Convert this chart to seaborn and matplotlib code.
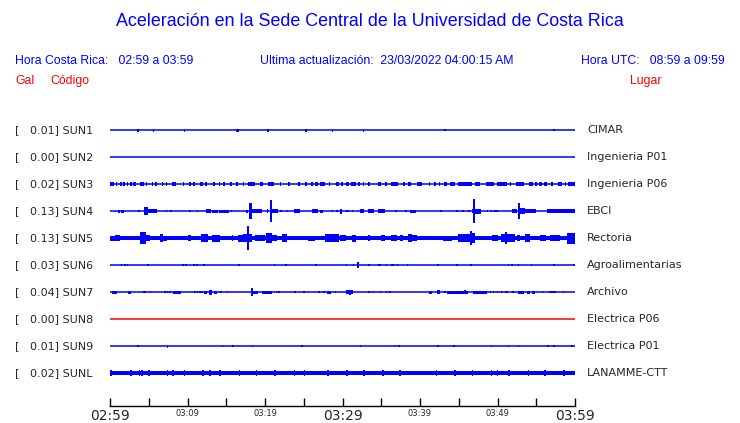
import numpy as np
import pandas as pd
import seaborn as sns
import matplotlib.pyplot as plt

# %% Data
codes = ["SUN1", "SUN2", "SUN3", "SUN4", "SUN5", "SUN6", "SUN7", "SUN8", "SUN9", "SUNL"]
gal = ["0.01", "0.00", "0.02", "0.13", "0.13", "0.03", "0.04", "0.00", "0.01", "0.02"]
places = ["CIMAR", "Ingenieria P01", "Ingenieria P06", "EBCI", "Rectoria",
          "Agroalimentarias", "Archivo", "Electrica P06", "Electrica P01", "LANAMME-CTT"]
trace_colors = ["blue"] * 7 + ["red"] + ["blue"] * 2
base_amp = [0, 0, 0, 0, 2.0, 0, 0, 0, 0, 1.7]   # steady noise band (px-like units)

tick_minutes = list(range(0, 61, 5))
tick_labels = ["02:59", "", "03:09", "", "03:19", "", "03:29", "", "03:39", "", "03:49", "", "03:59"]

# bursts: (start minute, end minute, half amplitude)
sun1_bursts = [(3.5, 3.5, 1.5), (5.5, 5.5, 1.5), (9.5, 9.5, 1.5), (16.2, 16.2, 1.5),
               (16.45, 16.45, 1.5), (20.3, 20.3, 1.5), (25.2, 25.2, 1.5), (28.6, 28.6, 1.5),
               (32.6, 32.6, 1.5), (43.1, 43.1, 1.0), (57.2, 57.2, 1.0)]
sun2_bursts = []
sun3_bursts = [(0.0, 0.56, 1.7), (0.73, 0.95, 1.7), (1.29, 1.5, 1.7), (1.72, 1.85, 1.7),
               (2.15, 2.28, 1.7), (2.58, 2.8, 1.7), (3.0, 3.3, 1.7), (3.87, 4.39, 1.7),
               (4.6, 4.6, 1.7), (5.4, 5.4, 1.7), (5.8, 6.0, 1.7), (6.67, 6.67, 1.7),
               (7.2, 7.2, 1.7), (7.96, 8.47, 1.7), (9.38, 9.38, 1.7), (10.24, 10.4, 1.7),
               (10.75, 11.0, 1.7), (11.6, 12.0, 1.7), (12.26, 12.26, 1.7), (13.3, 13.5, 1.7),
               (14.0, 14.2, 1.7), (14.6, 14.8, 1.7), (15.5, 15.7, 1.7), (16.3, 16.3, 1.7),
               (17.1, 17.3, 1.7), (17.85, 18.7, 1.7), (19.35, 19.8, 1.7), (20.4, 21.1, 1.7),
               (21.9, 21.9, 1.7), (23.0, 23.0, 1.7), (24.3, 24.3, 1.7), (25.2, 25.4, 1.7),
               (25.9, 26.2, 1.7), (26.45, 26.9, 1.7), (27.1, 27.8, 1.7), (28.2, 28.4, 1.7),
               (29.1, 29.5, 1.7), (29.8, 30.0, 1.7), (30.45, 30.9, 1.7), (31.05, 31.8, 1.7),
               (32.0, 32.2, 1.7), (32.6, 32.8, 1.7), (33.3, 33.3, 1.7), (34.6, 34.6, 1.7),
               (34.8, 35.0, 1.7), (35.5, 35.5, 1.7), (36.3, 37.2, 1.7), (37.8, 37.8, 1.7),
               (38.4, 38.8, 1.7), (39.6, 40.3, 1.7), (41.1, 41.1, 1.7), (41.8, 41.8, 1.7),
               (42.4, 42.4, 1.7), (43.1, 43.5, 1.7), (43.9, 44.5, 1.7), (44.9, 46.7, 1.7),
               (47.1, 47.1, 1.7), (47.4, 47.8, 1.7), (48.5, 49.5, 1.7), (49.9, 51.2, 1.7),
               (51.6, 51.6, 1.7), (52.4, 53.4, 1.7), (54.0, 54.6, 1.7), (54.8, 55.1, 1.7),
               (55.4, 55.7, 1.7), (56.0, 56.4, 1.7), (56.9, 57.2, 1.7), (57.8, 58.3, 1.7),
               (58.7, 58.7, 1.7), (59.1, 60.0, 1.7)]
sun4_bursts = [(1.07, 1.29, 1.5), (1.4, 1.85, 1.5), (3.66, 3.66, 1.0), (4.4, 4.86, 4.0),
               (4.86, 6.0, 1.7), (7.2, 7.2, 1.0), (7.8, 7.8, 1.0), (10.2, 10.2, 0.8),
               (11.2, 11.2, 0.8), (12.4, 13.0, 2.0), (13.1, 13.9, 1.5), (14.0, 15.35, 1.5),
               (15.6, 15.8, 1.2), (17.6, 17.8, 1.5), (17.9, 18.3, 8.0), (18.3, 19.6, 1.7),
               (20.2, 20.4, 2.0), (20.7, 20.95, 11.0), (20.95, 21.7, 2.0), (21.9, 22.15, 1.3),
               (22.8, 22.8, 0.8), (23.8, 24.5, 2.0), (26.0, 26.9, 2.0), (27.1, 27.5, 1.5),
               (28.6, 28.6, 0.8), (29.2, 29.3, 1.2), (29.7, 29.9, 2.5), (30.5, 30.9, 1.3),
               (31.2, 31.2, 1.0), (32.2, 32.8, 1.7), (33.3, 34.0, 1.7), (34.6, 35.5, 1.7),
               (36.8, 36.8, 0.8), (38.0, 38.3, 1.2), (38.7, 39.5, 1.5), (42.6, 42.6, 0.8),
               (44.7, 44.9, 1.2), (45.4, 45.7, 1.2), (46.2, 46.3, 1.2), (46.7, 46.9, 2.0),
               (46.9, 47.0, 12.0), (47.0, 47.9, 2.5), (48.6, 48.8, 1.3), (49.1, 49.3, 1.3),
               (49.6, 50.1, 1.3), (51.9, 52.5, 2.0), (52.7, 52.9, 8.0), (52.9, 53.5, 3.0),
               (53.5, 55.0, 1.7), (56.4, 60.0, 2.0)]
sun5_bursts = [(0.0, 0.65, 2.5), (0.65, 1.3, 3.0), (3.9, 4.6, 6.0), (4.6, 5.1, 3.0),
               (6.45, 6.9, 4.0), (6.9, 7.3, 2.5), (10.1, 10.5, 3.0), (11.8, 12.7, 4.5),
               (13.1, 14.2, 3.5), (15.7, 15.9, 3.0), (16.5, 17.1, 3.5), (17.2, 18.3, 4.0),
               (17.7, 17.75, 12.0), (18.7, 20.0, 3.0), (20.1, 20.9, 5.0), (20.9, 21.5, 3.0),
               (22.2, 22.8, 4.0), (25.6, 26.5, 2.5), (27.7, 29.5, 4.0), (29.7, 30.5, 3.0),
               (31.2, 31.8, 3.5), (33.3, 33.5, 3.0), (35.0, 35.5, 3.0), (36.3, 37.0, 3.0),
               (37.4, 37.8, 3.0), (38.5, 39.0, 4.5), (39.0, 39.6, 3.0), (43.0, 44.1, 2.5),
               (44.9, 46.4, 4.0), (46.4, 47.1, 5.0), (46.5, 46.6, 7.0), (49.3, 50.1, 3.0),
               (50.5, 52.3, 4.0), (51.0, 51.1, 6.0), (52.5, 52.9, 3.0), (53.6, 54.2, 4.0),
               (55.5, 56.3, 3.0), (56.8, 58.1, 3.0), (59.0, 60.0, 5.5)]
sun6_bursts = [(1.4, 1.6, 1.3), (1.8, 1.8, 1.3), (2.15, 2.15, 1.3), (4.8, 4.8, 1.3),
               (9.25, 9.55, 1.3), (9.7, 9.9, 1.3), (10.75, 10.75, 1.3), (11.1, 11.1, 1.3),
               (12.0, 12.2, 1.3), (16.55, 16.7, 1.0), (21.1, 21.1, 0.8), (22.6, 22.6, 0.8),
               (26.45, 26.7, 1.3), (30.4, 30.6, 1.3), (31.3, 31.4, 1.3), (31.9, 31.9, 3.0),
               (33.3, 33.4, 1.3), (34.6, 34.6, 1.3), (34.8, 34.8, 1.3), (35.6, 35.6, 1.3),
               (36.3, 36.6, 1.3), (37.0, 37.0, 1.3), (38.3, 38.3, 1.3), (42.2, 42.2, 0.8),
               (44.7, 44.7, 1.3), (46.4, 46.7, 1.3), (51.3, 51.3, 1.3), (51.7, 52.0, 1.3),
               (52.6, 52.6, 1.3), (54.3, 54.3, 1.3), (57.2, 57.3, 1.3), (59.8, 60.0, 1.3)]
sun7_bursts = [(0.2, 0.86, 1.5), (2.3, 2.7, 1.5), (4.2, 4.2, 1.0), (4.4, 4.4, 0.8),
               (5.1, 5.1, 1.0), (7.0, 7.0, 0.8), (7.3, 7.3, 1.0), (7.65, 7.65, 0.8),
               (8.1, 9.2, 1.5), (10.9, 10.9, 1.0), (11.2, 11.2, 1.0), (11.5, 11.5, 1.0),
               (11.8, 11.8, 1.0), (12.1, 12.5, 1.5), (12.8, 13.1, 2.5), (13.4, 13.85, 1.5),
               (14.2, 14.2, 1.0), (15.05, 15.05, 1.0), (18.15, 18.4, 4.0), (18.4, 19.1, 1.5),
               (19.6, 20.9, 1.5), (21.4, 21.4, 1.0), (21.7, 21.7, 1.0), (23.8, 23.8, 0.8),
               (24.9, 24.9, 0.8), (26.9, 26.9, 0.8), (27.5, 27.5, 1.0), (27.96, 28.5, 1.5),
               (29.0, 29.0, 0.8), (30.5, 31.4, 2.0), (30.9, 31.0, 2.5), (33.3, 33.3, 0.8),
               (33.9, 34.1, 0.8), (34.8, 34.8, 0.8), (35.6, 35.6, 0.8), (36.0, 36.0, 0.8),
               (41.1, 41.6, 1.5), (42.2, 42.6, 2.0), (43.1, 43.1, 0.8), (43.5, 46.2, 1.5),
               (45.7, 45.8, 2.0), (46.9, 48.7, 1.5), (49.0, 49.0, 1.0), (49.4, 49.4, 1.0),
               (49.9, 49.9, 1.0), (50.4, 50.6, 1.2), (51.0, 51.4, 1.2), (51.9, 51.9, 1.0),
               (52.7, 53.4, 1.5), (53.8, 54.2, 1.5), (54.5, 54.9, 1.5), (55.7, 55.9, 0.8),
               (56.6, 57.6, 1.2), (58.4, 58.4, 1.0)]
sun8_bursts = []
sun9_bursts = [(3.5, 3.5, 0.8), (7.3, 7.3, 1.5), (14.4, 14.4, 0.8), (15.8, 15.8, 0.8),
               (18.3, 18.3, 0.8), (24.7, 24.7, 1.2), (32.2, 32.2, 0.8), (36.6, 36.6, 0.8),
               (37.2, 37.2, 0.8), (42.2, 42.2, 0.8), (44.3, 44.5, 0.8), (49.1, 49.2, 1.2),
               (51.3, 51.3, 0.8), (52.6, 52.6, 0.8), (56.4, 56.4, 1.0), (57.2, 57.2, 0.8),
               (59.5, 59.5, 0.8)]
sunl_bursts = [(0.0, 0.3, 2.8), (2.6, 2.6, 3.0), (3.7, 3.7, 3.0), (4.0, 4.0, 3.0),
               (4.9, 5.1, 3.0), (7.3, 7.3, 3.0), (8.0, 8.0, 3.0), (9.5, 9.7, 3.0),
               (11.9, 11.9, 3.0), (12.8, 12.8, 3.0), (14.1, 14.3, 3.0), (16.6, 16.6, 3.0),
               (18.8, 19.0, 3.0), (21.2, 21.2, 3.0), (23.7, 23.7, 3.0), (25.0, 25.0, 3.0),
               (28.0, 28.0, 3.0), (30.5, 30.5, 3.0), (32.7, 32.9, 3.0), (35.1, 35.1, 3.0),
               (37.3, 37.5, 3.0), (42.0, 42.1, 3.0), (44.4, 44.4, 3.0), (46.7, 46.7, 3.0),
               (49.1, 49.1, 3.0), (49.9, 49.9, 3.0), (51.4, 51.5, 3.0), (53.9, 53.9, 3.0),
               (56.0, 56.0, 3.0), (58.5, 58.5, 3.0)]
all_bursts = [sun1_bursts, sun2_bursts, sun3_bursts, sun4_bursts, sun5_bursts,
              sun6_bursts, sun7_bursts, sun8_bursts, sun9_bursts, sunl_bursts]

# %% Figure
sns.set_style("white")
plt.rcParams['font.family'] = ['DejaVu Sans']
W, H = 740, 423
fig = plt.figure(figsize=(W / 100, H / 100), dpi=100)
row_px = 27.0  # spacing between traces in pixels
ax_top, ax_bot = 115, 406  # axes extent in pixels from top
ax = fig.add_axes([110 / W, (H - ax_bot) / H, 465 / W, (ax_bot - ax_top) / H])

# baselines
base_df = pd.DataFrame({"minute": [0, 60] * len(codes),
                        "row": np.repeat(np.arange(len(codes)), 2),
                        "code": np.repeat(codes, 2)})
sns.lineplot(data=base_df, x="minute", y="row", hue="code",
             palette=dict(zip(codes, trace_colors)), legend=False,
             linewidth=1.1, ax=ax)

# noise bands and bursts
for i, bursts in enumerate(all_bursts):
    col = trace_colors[i]
    if base_amp[i] > 0:
        a = base_amp[i] / row_px
        ax.bar(0, 2 * a, bottom=i - a, width=60, align='edge', color=col, linewidth=0)
    if bursts:
        b = np.array(bursts)
        widths = np.maximum(b[:, 1] - b[:, 0], 0.2)
        amps = b[:, 2] / row_px
        ax.bar(b[:, 0], 2 * amps, bottom=i - amps, width=widths, align='edge',
               color=col, linewidth=0)

ax.set_xlim(0, 60)
ax.set_ylim((ax_bot - 130) / row_px, (ax_top - 130) / row_px)
ax.set_yticks([])
ax.set_xlabel("")
ax.set_ylabel("")
for s in ["left", "right", "top"]:
    ax.spines[s].set_visible(False)
ax.spines["bottom"].set_color("black")
ax.spines["bottom"].set_linewidth(1)
ax.set_xticks(tick_minutes)
ax.set_xticklabels(tick_labels)
ax.tick_params(axis='x', which='major', bottom=True, direction='in', length=5.5,
               width=1, color='black', pad=2)
for lab, t in zip(ax.get_xticklabels(), tick_minutes):
    lab.set_fontsize(10 if t % 30 == 0 else 6)

# station labels
for i in range(len(codes)):
    y = 1 - (130 + row_px * i) / H
    fig.text(15 / W, y, f"[   {gal[i]}] {codes[i]}", fontsize=8, va='center', ha='left')
    fig.text(587 / W, y, places[i], fontsize=8, va='center', ha='left')

# header
hf = ['Liberation Sans', 'DejaVu Sans']
fs = 8.8
fig.text(0.5, 1 - 22 / H, "Aceleración en la Sede Central de la Universidad de Costa Rica",
         color='blue', fontsize=12.9, ha='center', va='center', family=hf)
fig.text(15 / W, 1 - 61 / H, "Hora Costa Rica:   02:59 a 03:59", color='blue',
         fontsize=fs, ha='left', va='center', family=hf)
fig.text(260 / W, 1 - 61 / H, "Ultima actualización:  23/03/2022 04:00:15 AM", color='blue',
         fontsize=fs, ha='left', va='center', family=hf)
fig.text(725 / W, 1 - 61 / H, "Hora UTC:   08:59 a 09:59", color='blue',
         fontsize=fs, ha='right', va='center', family=hf)
fig.text(15 / W, 1 - 81 / H, "Gal", color='red', fontsize=fs, ha='left', va='center', family=hf)
fig.text(50 / W, 1 - 81 / H, "Código", color='red', fontsize=fs, ha='left', va='center', family=hf)
fig.text(630 / W, 1 - 81 / H, "Lugar", color='red', fontsize=fs, ha='left', va='center', family=hf)

plt.savefig("out.png", dpi=100)
plt.close()
